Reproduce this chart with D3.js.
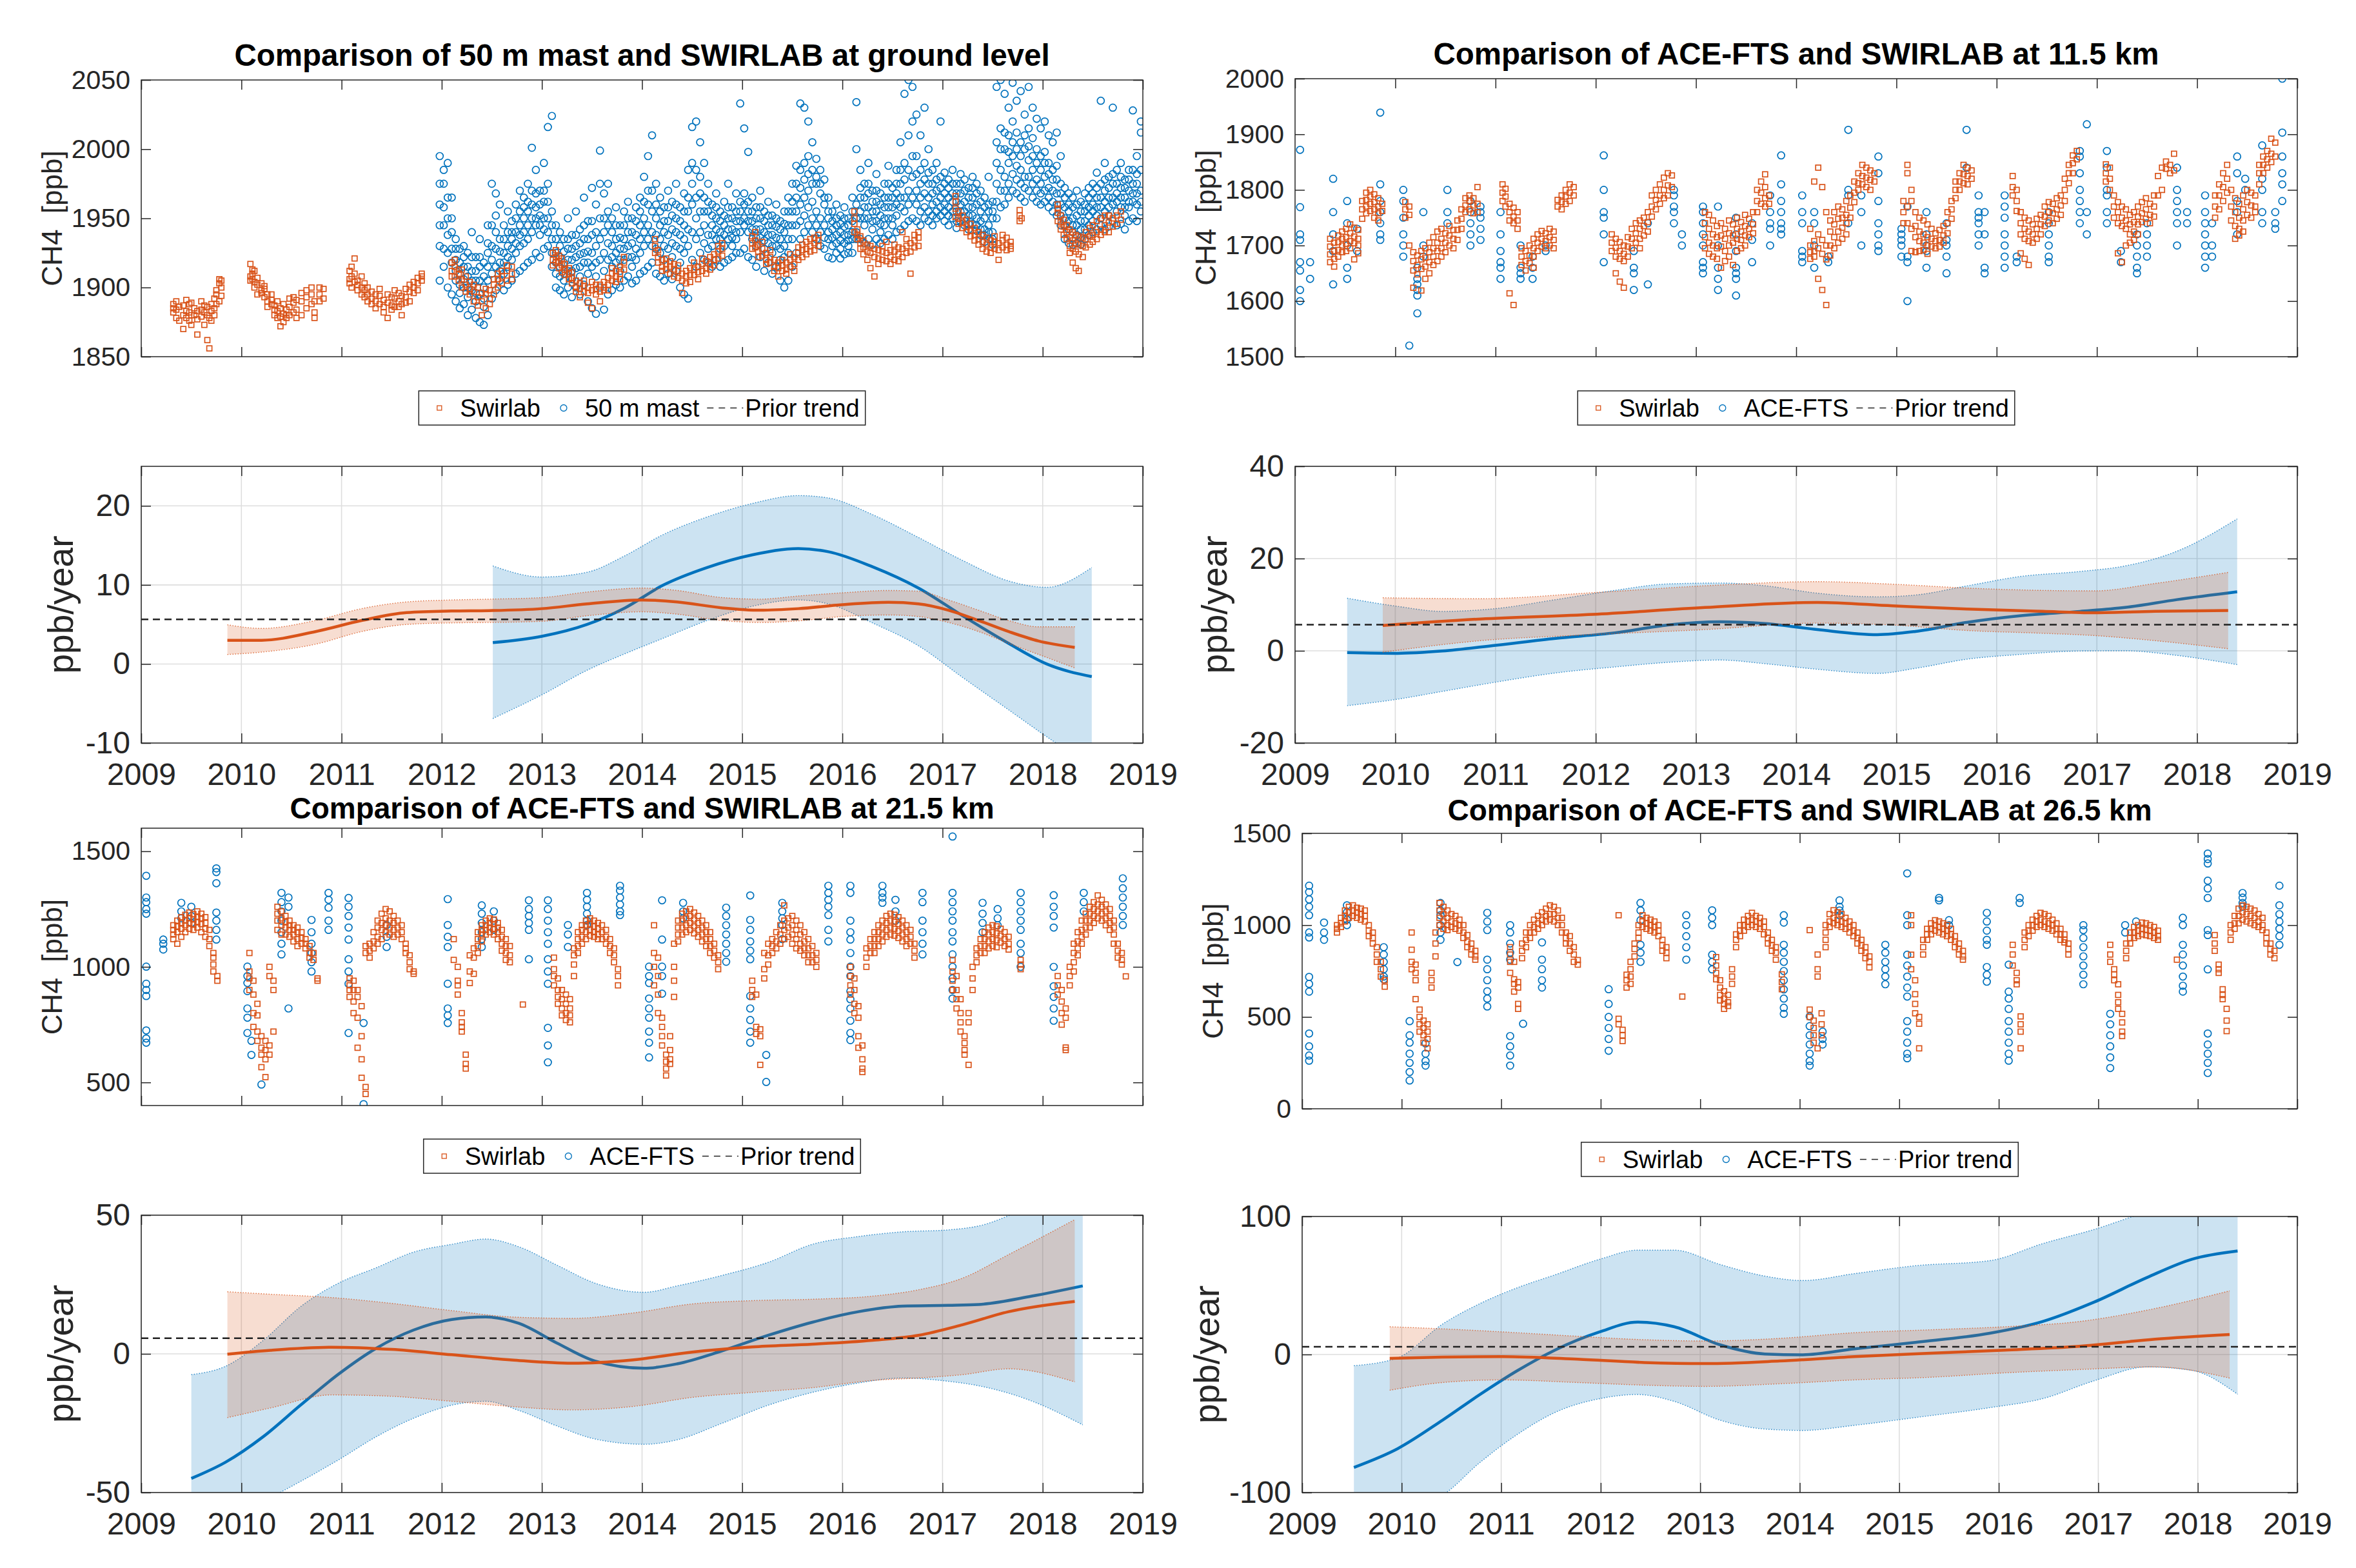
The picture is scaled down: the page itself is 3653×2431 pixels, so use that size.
<!DOCTYPE html>
<html>
<head>
<meta charset="utf-8">
<script src="https://cdn.jsdelivr.net/npm/d3@7"></script>
<style>
  body { margin: 0; background: #fff; }
</style>
</head>
<body>
<svg width="3653" height="2431"></svg>
<script>
// ---- scatter data: rows of [decimal year, value, value, ...] (ppb) ----
const swirlabGround = [
  [2009.32,1885,1882,1888],[2009.35,1878,1884,1890],[2009.38,1876,1886],[2009.42,1880,1870,1887],[2009.45,1883,1878,1891],
  [2009.48,1876,1882,1888],[2009.50,1873,1889,1880],[2009.53,1880,1885],[2009.56,1877,1866,1883],[2009.60,1879,1884,1890],
  [2009.63,1873,1882,1887],[2009.66,1886,1880,1862],[2009.68,1856,1878],[2009.70,1883,1876,1888],[2009.73,1892,1880,1885],
  [2009.75,1895,1898,1888],[2009.78,1903,1890,1906],[2009.80,1900,1894,1905],
  [2010.09,1917,1908,1905],[2010.11,1910,1906,1913],[2010.13,1912,1904,1900],[2010.16,1907,1902,1895],[2010.20,1903,1898,1896],
  [2010.23,1899,1893,1901],[2010.26,1895,1890,1886],[2010.30,1891,1888,1895],[2010.33,1887,1884,1880],[2010.36,1883,1890,1878],
  [2010.39,1879,1885,1872],[2010.42,1881,1875,1888],[2010.45,1884,1878,1880],[2010.48,1886,1892,1880],[2010.52,1882,1889,1893],
  [2010.55,1878,1884,1891],[2010.60,1890,1896,1880],[2010.65,1885,1893,1898],[2010.70,1888,1895,1900],[2010.73,1882,1878,1890],
  [2010.78,1900,1890,1895],[2010.82,1899,1892],
  [2011.08,1906,1912,1903],[2011.10,1908,1900,1915],[2011.13,1921,1910,1904],[2011.16,1905,1898,1902],[2011.20,1900,1895,1908],
  [2011.23,1898,1893,1903],[2011.26,1895,1890,1900],[2011.30,1892,1897,1888],[2011.34,1890,1885,1895],[2011.38,1894,1888,1899],
  [2011.42,1891,1886,1882],[2011.46,1889,1895,1878],[2011.50,1887,1893,1884],[2011.53,1892,1898,1886],[2011.57,1890,1886,1896],
  [2011.60,1880,1894,1888],[2011.64,1893,1899,1889],[2011.68,1897,1902,1890],[2011.72,1900,1896,1904],[2011.76,1903,1907,1898],
  [2011.80,1908,1905,1910],
  [2012.10,1912,1918,1908],[2012.13,1908,1915,1920],[2012.17,1910,1905,1913],[2012.20,1906,1913,1900],[2012.24,1902,1908,1897],
  [2012.28,1899,1904,1895],[2012.32,1897,1890,1902],[2012.36,1893,1900,1887],[2012.40,1890,1896,1880],[2012.44,1895,1885,1899],
  [2012.48,1898,1892,1888],[2012.52,1902,1895,1906],[2012.56,1906,1900,1910],[2012.60,1908,1903,1912],[2012.65,1912,1905,1916],
  [2012.70,1910,1915,1906],
  [2013.11,1925,1920,1916],[2013.14,1922,1918,1927],[2013.17,1919,1914,1923],[2013.20,1916,1911,1921],[2013.23,1913,1909,1917],
  [2013.27,1910,1906,1914],[2013.30,1907,1903,1911],[2013.34,1905,1900,1897],[2013.38,1903,1899,1893],[2013.42,1901,1897,1905],
  [2013.46,1900,1896,1889],[2013.50,1898,1904,1885],[2013.54,1899,1895,1902],[2013.58,1902,1897,1890],[2013.62,1904,1900,1898],
  [2013.66,1907,1902,1898],[2013.70,1910,1905,1914],[2013.74,1912,1908,1904],[2013.78,1915,1910,1906],[2013.82,1918,1913,1922],
  [2014.13,1930,1925,1935],[2014.16,1922,1918,1927],[2014.20,1920,1915,1912],[2014.24,1917,1913,1921],[2014.28,1915,1910,1919],
  [2014.32,1913,1908,1917],[2014.36,1912,1907,1916],[2014.40,1910,1905,1896],[2014.44,1912,1908,1903],[2014.48,1914,1909,1904],
  [2014.52,1913,1918,1909],[2014.56,1915,1911,1906],[2014.60,1917,1912,1921],[2014.64,1919,1914,1910],[2014.68,1922,1917,1913],
  [2014.72,1924,1920,1916],[2014.76,1926,1930,1921],[2014.80,1928,1932,1923],
  [2015.10,1937,1932,1928],[2015.13,1934,1929,1940],[2015.16,1931,1926,1922],[2015.20,1928,1923,1933],[2015.24,1925,1920,1917],
  [2015.28,1922,1918,1927],[2015.32,1920,1915,1912],[2015.36,1918,1914,1908],[2015.40,1916,1912,1920],[2015.44,1918,1913,1910],
  [2015.48,1920,1915,1924],[2015.52,1922,1917,1912],[2015.56,1925,1920,1929],[2015.60,1927,1922,1931],[2015.64,1928,1924,1933],
  [2015.68,1930,1926,1935],[2015.72,1932,1927,1936],[2015.76,1934,1930,1938],
  [2016.12,1955,1946,1940,1950],[2016.15,1942,1938,1935],[2016.18,1937,1932,1928],[2016.21,1934,1929,1924],[2016.25,1931,1926,1920],
  [2016.28,1930,1925,1914],[2016.32,1928,1922,1908],[2016.36,1927,1921,1917],[2016.40,1926,1920,1930],[2016.44,1925,1919,1933],
  [2016.48,1927,1922,1917],[2016.52,1926,1931,1920],[2016.56,1929,1924,1919],[2016.60,1928,1940,1922],[2016.64,1930,1935,1925],
  [2016.68,1932,1926,1910],[2016.72,1934,1938,1929],[2016.76,1936,1930,1940],
  [2017.13,1962,1957,1951,1966],[2017.16,1955,1950,1946],[2017.20,1952,1947,1943],[2017.24,1949,1944,1940],[2017.28,1946,1941,1937],
  [2017.32,1943,1938,1934],[2017.36,1940,1935,1931],[2017.40,1938,1933,1928],[2017.44,1936,1931,1926],[2017.48,1934,1929,1925],
  [2017.52,1933,1928,1937],[2017.56,1932,1927,1920],[2017.60,1934,1929,1938],[2017.64,1931,1936,1927],[2017.68,1933,1928,1930],
  [2017.77,1948,1952,1956],[2017.79,1950],
  [2018.15,1960,1954,1948,1957],[2018.18,1952,1947,1942],[2018.21,1949,1944,1938],[2018.24,1945,1940,1935],[2018.27,1942,1936,1930,1925],
  [2018.30,1940,1934,1928,1918],[2018.33,1938,1932,1926,1914],[2018.36,1937,1931,1924,1912],[2018.40,1936,1930,1922],[2018.43,1935,1929,1940],
  [2018.47,1937,1931,1943],[2018.50,1938,1933,1945],[2018.54,1940,1935,1948],[2018.58,1942,1950,1938],[2018.62,1945,1952,1940],
  [2018.66,1947,1940,1952],[2018.70,1950,1944],[2018.74,1952,1946],[2018.78,1955,1949]
];

const mast50m = [
  [2011.98,1995,1975,1960,1945,1930,1905],[2012.02,1985,1975,1958,1945,1928,1915],[2012.06,1990,1965,1950,1938,1925,1900],
  [2012.10,1965,1950,1940,1928,1918,1895],[2012.14,1935,1928,1920,1912,1905,1890],[2012.18,1928,1918,1910,1902,1896,1885],
  [2012.22,1930,1922,1915,1906,1900,1888],[2012.26,1925,1915,1908,1900,1893,1880],[2012.30,1940,1922,1912,1905,1898,1884],
  [2012.34,1922,1912,1905,1896,1890,1878],[2012.38,1935,1922,1915,1905,1895,1875],[2012.42,1918,1908,1900,1892,1886,1873],
  [2012.46,1945,1932,1925,1915,1905,1880],[2012.50,1975,1945,1930,1920,1910,1892],[2012.54,1968,1952,1940,1928,1915,1898],
  [2012.58,1935,1926,1918,1912,1905,1960],[2012.62,1945,1935,1925,1918,1910,1898],[2012.66,1955,1940,1930,1922,1915,1902],
  [2012.70,1948,1940,1935,1928,1920,1905],[2012.74,1960,1950,1940,1932,1925,1910],[2012.78,1970,1955,1945,1938,1930,1912],
  [2012.82,1965,1958,1950,1940,1932,1915],[2012.86,1975,1962,1955,1945,1935,1918],[2012.90,2001,1970,1960,1950,1940,1920],
  [2012.94,1985,1968,1958,1950,1945,1925],[2012.98,1970,1960,1952,1945,1938,1922],[2013.02,1990,1970,1962,1950,1942,1928],
  [2013.06,2016,1975,1962,1950,1940,1930],[2013.10,2024,1955,1945,1935,1925,1915],[2013.14,1945,1935,1925,1918,1910,1900],
  [2013.18,1940,1930,1922,1915,1908,1898],[2013.22,1935,1926,1918,1910,1905,1895],[2013.26,1950,1935,1928,1920,1912,1900],
  [2013.30,1938,1928,1920,1912,1906,1893],[2013.34,1955,1938,1930,1922,1914,1900],[2013.38,1942,1932,1924,1915,1908,1895],
  [2013.42,1965,1945,1935,1925,1918,1902],[2013.46,1948,1935,1926,1918,1910,1890],[2013.50,1972,1948,1938,1925,1915,1885],
  [2013.54,1960,1940,1930,1918,1908,1881],[2013.58,1999,1975,1950,1935,1920,1900],[2013.62,1968,1950,1940,1925,1912,1884],
  [2013.66,1975,1955,1945,1932,1920,1895],[2013.70,1950,1940,1930,1922,1915,1898],[2013.74,1958,1945,1935,1925,1918,1902],
  [2013.78,1945,1936,1928,1920,1912,1900],[2013.82,1955,1945,1935,1928,1920,1905],[2013.86,1962,1950,1940,1930,1922,1908],
  [2013.90,1950,1940,1932,1922,1915,1903],[2013.94,1958,1948,1938,1928,1920,1905],[2013.98,1965,1955,1945,1935,1925,1910],
  [2014.02,1980,1962,1950,1940,1930,1912],[2014.06,1995,1970,1960,1945,1935,1915],[2014.10,2010,1970,1955,1940,1930,1918],
  [2014.14,1975,1960,1950,1938,1928,1910],[2014.18,1965,1955,1945,1935,1925,1908],[2014.22,1958,1948,1940,1930,1920,1905],
  [2014.26,1970,1958,1948,1938,1928,1910],[2014.30,1962,1952,1942,1932,1922,1906],[2014.34,1975,1960,1950,1940,1930,1912],
  [2014.38,1958,1948,1938,1928,1918,1900],[2014.42,1968,1955,1945,1935,1925,1895],[2014.46,1985,1965,1955,1942,1930,1892],
  [2014.50,2016,1990,1975,1960,1940,1920],[2014.54,2020,1985,1965,1950,1935,1915],[2014.58,2005,1980,1968,1955,1940,1925],
  [2014.62,1990,1965,1955,1945,1932,1920],[2014.66,1975,1962,1955,1938,1928,1918],[2014.70,1960,1952,1945,1938,1930,1915],
  [2014.74,1968,1958,1950,1942,1935,1920],[2014.78,1955,1948,1940,1935,1928,1915],[2014.82,1962,1952,1945,1938,1930,1918],
  [2014.86,1975,1958,1950,1942,1935,1920],[2014.90,1958,1950,1942,1936,1930,1922],[2014.94,1968,1955,1948,1940,1935,1925],
  [2014.98,2033,1962,1955,1948,1940,1925],[2015.02,2015,1968,1960,1950,1945,1928],[2015.06,1998,1962,1955,1948,1940,1922],
  [2015.10,1965,1955,1948,1942,1935,1920],[2015.14,1958,1950,1942,1936,1930,1915],[2015.18,1970,1958,1950,1942,1936,1922],
  [2015.22,1955,1948,1940,1934,1928,1912],[2015.26,1962,1952,1945,1938,1932,1918],[2015.30,1952,1945,1938,1930,1925,1910],
  [2015.34,1960,1950,1944,1936,1930,1915],[2015.38,1948,1942,1935,1928,1920,1905],[2015.42,1955,1946,1940,1930,1922,1900],
  [2015.46,1965,1955,1945,1935,1925,1905],[2015.50,1975,1962,1955,1945,1935,1915],[2015.54,1988,1975,1965,1955,1945,1925],
  [2015.58,2033,1985,1972,1960,1948,1935],[2015.62,2030,1990,1978,1965,1952,1940],[2015.66,2020,1995,1982,1970,1958,1945],
  [2015.70,2005,1985,1975,1962,1950,1940],[2015.74,1993,1980,1975,1955,1945,1935],[2015.78,1985,1975,1968,1950,1940,1930],
  [2015.82,1978,1965,1960,1945,1936,1928],[2015.86,1965,1955,1950,1940,1935,1922],[2015.90,1955,1948,1942,1936,1930,1921],
  [2015.94,1960,1950,1945,1938,1932,1925],[2015.98,1952,1946,1940,1934,1928,1921],[2016.02,1958,1950,1944,1938,1932,1924],
  [2016.06,1950,1945,1938,1934,1930,1925],[2016.10,1965,1955,1948,1940,1935,1925],[2016.14,2034,2000,1960,1950,1940,1935],
  [2016.18,1985,1972,1965,1955,1950,1935],[2016.22,1975,1965,1958,1950,1945,1932],[2016.26,1990,1975,1968,1958,1950,1935],
  [2016.30,1970,1962,1955,1948,1942,1931],[2016.34,1982,1970,1962,1955,1948,1935],[2016.38,1968,1960,1952,1946,1940,1932],
  [2016.42,1975,1965,1958,1950,1945,1935],[2016.46,1988,1975,1965,1958,1950,1938],[2016.50,1972,1965,1958,1950,1945,1935],
  [2016.54,1985,1975,1968,1960,1952,1940],[2016.58,2005,1985,1975,1965,1958,1942],[2016.62,2040,1990,1978,1965,1955,1945],
  [2016.66,2050,2010,1985,1970,1960,1948],[2016.70,2045,2020,1995,1980,1965,1950],[2016.74,2025,1995,1982,1970,1960,1948],
  [2016.78,2010,1985,1975,1965,1955,1945],[2016.82,2030,1990,1978,1968,1958,1950],[2016.86,2000,1983,1975,1965,1955,1948],
  [2016.90,1985,1975,1968,1960,1952,1945],[2016.94,1990,1978,1970,1962,1955,1950],[2016.98,2020,1980,1972,1965,1958,1952],
  [2017.02,1983,1975,1968,1960,1955,1948],[2017.06,1978,1972,1965,1958,1952,1945],[2017.10,1985,1975,1968,1962,1955,1950],
  [2017.14,1975,1968,1962,1955,1948,1943],[2017.18,1982,1975,1968,1960,1955,1948],[2017.22,1978,1970,1962,1955,1950,1945],
  [2017.26,1972,1965,1958,1952,1946,1942],[2017.30,1980,1972,1965,1958,1952,1946],[2017.34,1975,1968,1960,1950,1945,1941],
  [2017.38,1970,1962,1955,1948,1942,1938],[2017.42,1965,1958,1950,1942,1938,1933],[2017.46,1980,1960,1955,1945,1940,1935],
  [2017.50,1962,1955,1950,1940,1935,1931],[2017.54,2045,2005,1990,1975,1962,1950],[2017.58,2050,2015,2000,1985,1970,1958],
  [2017.62,2040,2012,2000,1980,1970,1960],[2017.66,2030,2010,1998,1990,1975,1965],[2017.70,2048,2020,2005,1995,1982,1970],
  [2017.74,2035,2012,2000,1988,1978,1968],[2017.78,2042,2005,1995,1985,1975,1965],[2017.82,2025,2010,2000,1980,1972,1962],
  [2017.86,2045,2015,2002,1992,1980,1970],[2017.90,2030,2008,1995,1985,1975,1965],[2017.94,2022,2000,1990,1978,1970,1962],
  [2017.98,2015,1995,1985,1975,1968,1960],[2018.02,2020,1998,1990,1980,1970,1962],[2018.06,2010,1990,1982,1972,1965,1958],
  [2018.10,2005,1985,1978,1970,1962,1955],[2018.14,2012,1988,1978,1968,1960,1952],[2018.18,1995,1975,1968,1960,1952,1945],
  [2018.22,1972,1965,1958,1950,1945,1935],[2018.26,1968,1960,1955,1948,1942,1932],[2018.30,1965,1958,1950,1945,1940,1931],
  [2018.34,1970,1960,1952,1945,1938,1932],[2018.38,1962,1955,1948,1942,1936,1931],[2018.42,1968,1960,1955,1948,1942,1935],
  [2018.46,1972,1965,1958,1952,1945,1938],[2018.50,1975,1968,1960,1955,1948,1940],[2018.54,1983,1972,1965,1958,1952,1942],
  [2018.58,2035,1975,1965,1958,1950,1945],[2018.62,1990,1978,1970,1962,1955,1942],[2018.66,1980,1972,1965,1958,1952,1944],
  [2018.70,2030,1982,1975,1965,1960,1948],[2018.74,1985,1975,1968,1962,1955,1945],[2018.78,1990,1980,1972,1965,1958,1946],
  [2018.82,1978,1972,1965,1958,1952,1942],[2018.86,1985,1978,1970,1962,1958,1948],[2018.90,2028,1985,1975,1968,1962,1950],
  [2018.94,1995,1982,1975,1968,1960,1948],[2018.98,2020,2012,1985,1970,1962,1955]
];

const swirlab115 = [
  [2009.35,1712,1698,1684,1670],[2009.39,1705,1690,1676,1662],[2009.43,1718,1706,1692,1680],[2009.47,1725,1712,1700,1688],
  [2009.51,1730,1715,1703,1690],[2009.55,1738,1722,1708,1695],[2009.59,1732,1716,1704,1675],[2009.63,1728,1712,1700,1686],
  [2009.67,1780,1765,1748],[2009.71,1795,1782,1770,1758],[2009.75,1800,1788,1775,1762],[2009.79,1792,1778,1765,1750],
  [2009.83,1785,1770,1758,1745],[2009.87,1775,1762],
  [2010.10,1778,1765,1750],[2010.14,1770,1755,1700],[2010.18,1688,1672,1655,1624],[2010.22,1682,1665,1648],
  [2010.26,1690,1675,1658,1619],[2010.30,1695,1678,1662,1640],[2010.34,1705,1688,1670,1650],[2010.38,1715,1695,1680,1665],
  [2010.42,1725,1705,1690,1672],[2010.46,1730,1712,1695,1680],[2010.50,1722,1705,1688],[2010.54,1735,1718,1700],
  [2010.58,1728,1712,1695],[2010.62,1745,1728,1710],[2010.66,1765,1748,1730],[2010.70,1785,1772,1760],
  [2010.74,1790,1780,1765],[2010.78,1785,1772,1758],[2010.82,1805,1775,1760],
  [2011.07,1810,1795,1780],[2011.10,1802,1788,1770],[2011.14,1775,1760,1745,1614],[2011.18,1768,1752,1740,1593],
  [2011.22,1760,1745,1730],[2011.26,1695,1680,1665],[2011.30,1690,1672,1655],[2011.34,1700,1682,1668],
  [2011.38,1712,1695,1680,1660],[2011.42,1720,1705,1690],[2011.46,1726,1712,1698],[2011.50,1722,1708,1695],
  [2011.54,1730,1715,1700],[2011.58,1725,1710,1695],[2011.62,1782,1770],[2011.66,1790,1778,1765],
  [2011.70,1800,1788,1775],[2011.74,1810,1795,1780],[2011.78,1805,1790],
  [2012.16,1720,1705,1690],[2012.20,1712,1696,1680,1650],[2012.24,1706,1690,1676,1635],[2012.28,1700,1685,1672,1624],
  [2012.32,1715,1698,1680],[2012.36,1730,1712,1695],[2012.40,1740,1722,1705],[2012.44,1745,1730,1712,1695],
  [2012.48,1750,1735,1718],[2012.52,1760,1742,1725],[2012.56,1790,1770,1752],[2012.60,1800,1782,1765],
  [2012.64,1810,1790,1775],[2012.68,1822,1800,1785],[2012.72,1830,1808,1790],[2012.76,1826,1805],
  [2013.09,1760,1740,1715,1695],[2013.13,1755,1730,1705,1685],[2013.17,1745,1720,1700,1680],[2013.21,1735,1715,1695,1676],
  [2013.25,1740,1718,1698,1660],[2013.29,1730,1712,1690,1672],[2013.33,1745,1722,1700,1680],[2013.37,1738,1718,1705,1665],
  [2013.41,1750,1730,1712,1690],[2013.45,1742,1725,1710,1695],[2013.49,1755,1735,1718,1700],[2013.53,1748,1730,1715],
  [2013.57,1760,1738,1722],[2013.61,1800,1780,1760],[2013.65,1815,1795,1775],[2013.69,1828,1805,1785,1770],[2013.73,1790,1775],
  [2014.14,1730,1700,1688,1676],[2014.18,1815,1708,1690,1680],[2014.22,1840,1720,1695,1640],[2014.26,1805,1710,1685,1620],
  [2014.30,1760,1700,1675,1593],[2014.34,1745,1725,1700,1682],[2014.38,1760,1738,1715,1695],[2014.42,1770,1748,1725,1705],
  [2014.46,1765,1750,1732,1712],[2014.50,1780,1755,1740,1720],[2014.54,1790,1768,1750],[2014.58,1815,1795,1778],
  [2014.62,1830,1812,1800],[2014.66,1845,1825,1810],[2014.70,1840,1822,1805],[2014.74,1835,1818,1800],[2014.78,1830,1815],
  [2015.07,1780,1760,1740],[2015.11,1845,1830,1770,1740],[2015.15,1800,1780,1730,1690],[2015.19,1760,1735,1715,1688],
  [2015.23,1750,1725,1708,1690],[2015.27,1745,1720,1705,1692],[2015.31,1738,1715,1700,1685],[2015.35,1730,1712,1698],
  [2015.39,1722,1708,1695],[2015.43,1728,1710,1698],[2015.47,1735,1718,1705],[2015.51,1760,1740,1722],
  [2015.55,1780,1765,1748],[2015.59,1815,1800,1785],[2015.63,1830,1815,1800],[2015.67,1845,1828,1812],
  [2015.71,1840,1825,1810],[2015.75,1835,1820],
  [2016.16,1825,1805,1790],[2016.20,1800,1780,1762],[2016.24,1760,1740,1720,1686],[2016.28,1750,1730,1712,1676],
  [2016.32,1745,1725,1708,1665],[2016.36,1738,1720,1705],[2016.40,1748,1730,1712],[2016.44,1755,1738,1720],
  [2016.48,1770,1752,1735],[2016.52,1778,1760,1745],[2016.56,1775,1758,1740],[2016.60,1785,1765,1748],
  [2016.64,1790,1772,1755],[2016.68,1820,1800,1780],[2016.72,1845,1830,1812],[2016.76,1862,1848,1830],[2016.80,1870,1855],
  [2017.09,1846,1830,1815],[2017.13,1840,1820,1800],[2017.17,1790,1770,1750],[2017.21,1778,1760,1740,1686],
  [2017.25,1770,1750,1735,1670],[2017.29,1765,1745,1730,1700],[2017.33,1755,1738,1720,1705],[2017.37,1760,1742,1725,1710],
  [2017.41,1770,1752,1738,1720],[2017.45,1778,1758,1742],[2017.49,1785,1765,1748],[2017.53,1775,1755,1740],
  [2017.57,1790,1770,1752],[2017.61,1825,1790],[2017.65,1840,1800],[2017.69,1851,1838],[2017.73,1845,1830],[2017.77,1865,1835],
  [2018.18,1790,1770,1750],[2018.22,1810,1790,1765],[2018.26,1830,1805,1780],[2018.30,1845,1820,1795],
  [2018.34,1800,1770,1745],[2018.38,1785,1760,1735,1712],[2018.42,1775,1750,1730,1718],[2018.46,1790,1765,1745,1725],
  [2018.50,1800,1778,1755],[2018.54,1795,1772,1750],[2018.58,1790,1770,1760],[2018.62,1845,1830,1810],
  [2018.66,1860,1845,1830],[2018.70,1870,1855,1840],[2018.74,1892,1865,1850],[2018.78,1885,1860]
];

const ace115 = [
  [2009.05,1872,1769,1720,1710,1670,1655,1620,1600],[2009.15,1640,1670],[2009.38,1820,1760,1720,1690,1630],
  [2009.52,1780,1740,1700,1660,1640],[2009.62,1730,1690],[2009.85,1939,1810,1780,1760,1740,1720,1710],
  [2010.08,1800,1780,1750,1720,1700,1680],[2010.14,1520],[2010.22,1660,1640,1630,1620,1610,1578],[2010.28,1760,1700,1680],
  [2010.52,1800,1760,1740],[2010.75,1780,1760,1740,1720,1700],[2010.85,1770,1760,1750,1730,1710],
  [2011.05,1760,1720,1690,1670,1660,1640],[2011.25,1700,1660,1650,1640],[2011.37,1680,1660,1640],[2011.50,1700,1690],
  [2012.08,1862,1800,1760,1750,1720,1670],[2012.38,1690,1660,1650,1620],[2012.52,1740,1630],
  [2012.78,1800,1790,1770,1760,1740],[2012.86,1720,1700],[2013.07,1770,1760,1740,1720,1700,1670,1660,1650],
  [2013.22,1770,1700,1660,1640,1620],[2013.40,1750,1720,1690,1660,1650,1640,1610],[2013.56,1740,1710,1670],
  [2013.74,1790,1760,1740,1730,1700],[2013.85,1862,1810,1780,1760,1740,1730,1720],[2014.06,1790,1760,1740,1690,1680,1670],
  [2014.18,1760,1740,1700,1660],[2014.32,1680,1670],[2014.52,1908,1800,1790,1740],[2014.65,1790,1760,1700],
  [2014.82,1860,1830,1780,1740,1720,1700,1690],[2015.05,1730,1720,1710,1700,1680],[2015.11,1770,1680,1670,1600],
  [2015.30,1760,1720,1700,1690,1660],[2015.50,1740,1710,1700,1680,1650],[2015.70,1908,1840],
  [2015.82,1790,1760,1750,1740,1720,1700],[2015.88,1760,1720,1660,1650],[2016.08,1790,1770,1750,1720,1700,1680,1660],
  [2016.20,1680,1670],[2016.52,1760,1740,1720,1700,1680,1670],[2016.83,1870,1860,1830,1800,1780,1760,1740],
  [2016.90,1918,1760,1720],[2017.10,1870,1840,1800,1790,1760,1740],[2017.24,1690,1670],
  [2017.40,1720,1700,1680,1660,1650],[2017.50,1740,1720,1700,1680],[2017.80,1840,1800,1780,1760,1740,1700],
  [2017.90,1760,1740],[2018.08,1790,1760,1740,1720,1700,1680,1660],[2018.15,1740,1700,1680],
  [2018.40,1860,1830,1780,1760,1720],[2018.48,1820,1800],[2018.65,1880,1820,1800,1760,1740],
  [2018.78,1760,1740,1730],[2018.85,2000,1903,1860,1830,1810,1780]
];

const swirlab215 = [
  [2009.32,1180,1160,1140,1120],[2009.36,1200,1175,1150,1100],[2009.40,1215,1190,1165,1130],[2009.44,1225,1200,1180,1150],
  [2009.48,1235,1210,1190,1165],[2009.52,1228,1205,1185,1160],[2009.56,1240,1215,1195,1170],[2009.60,1230,1210,1185,1150],
  [2009.64,1215,1190,1165,1130],[2009.68,1160,1120,1090],[2009.72,1060,1040,1010,980],[2009.76,960,940],
  [2010.08,1060,980,950,900],[2010.12,940,880,800,740],[2010.16,840,790,720,680],[2010.20,700,650,620,566],
  [2010.24,680,640,600,523],[2010.28,1000,960,660,620],[2010.32,940,900,720],
  [2010.36,1260,1230,1200,1160],[2010.40,1240,1210,1180,1140],[2010.44,1220,1195,1170,1140],[2010.48,1200,1180,1160,1130],
  [2010.52,1180,1160,1140,1110],[2010.56,1170,1150,1120,1090],[2010.60,1150,1125,1100],[2010.64,1120,1100,1080],
  [2010.68,1090,1060,1040],[2010.72,1060,1030],[2010.76,950,940],
  [2011.08,950,920,900,870],[2011.12,940,900,850,800],[2011.16,900,870,780,650],[2011.20,830,700,600,520],
  [2011.24,1090,1060,480,450],[2011.28,1100,1070,1040],[2011.32,1150,1110,1080],[2011.36,1200,1170,1130,1100],
  [2011.40,1230,1190,1160,1120],[2011.44,1250,1210,1180,1150],[2011.48,1240,1200,1170,1140],[2011.52,1220,1190,1160,1130],
  [2011.56,1200,1170,1140],[2011.60,1180,1150,1120],[2011.64,1100,1080,1060],[2011.68,1050,1020,990],[2011.72,980,970],
  [2012.12,1120,1030],[2012.16,1000,940,920,880],[2012.20,800,760,740,720],[2012.24,580,560,620],[2012.28,1050,980,930],
  [2012.32,1080,1040,970],[2012.36,1150,1120,1090,1060],[2012.40,1180,1160,1140,1110],[2012.44,1200,1180,1160,1140],
  [2012.48,1210,1190,1170,1150],[2012.52,1205,1185,1165,1140],[2012.56,1190,1170,1150,1120],[2012.60,1160,1130,1100,1070],
  [2012.64,1120,1090,1060,1030],[2012.68,1090,1050,1020],[2012.81,837],
  [2013.12,1040,990,960,920],[2013.16,950,900,870,840],[2013.20,900,860,820,790],[2013.24,880,840,800,770],
  [2013.28,860,820,790,760],[2013.32,1080,1050,1010,960],[2013.36,1150,1120,1090,1060],[2013.40,1180,1160,1130,1100],
  [2013.44,1200,1180,1150,1120],[2013.48,1210,1185,1160,1135],[2013.52,1200,1175,1150,1130],[2013.56,1190,1165,1140,1120],
  [2013.60,1180,1150,1120],[2013.64,1160,1130,1100],[2013.68,1120,1090,1060],[2013.72,1080,1050,1020],[2013.76,990,960,920],
  [2014.12,1180,1060,1000,920],[2014.16,1040,960,880,800],[2014.20,780,740,700,660],[2014.24,620,590,560,530],
  [2014.28,700,640,600,580],[2014.32,1100,1000,940,870],[2014.36,1200,1170,1140,1110],[2014.40,1230,1200,1170,1140],
  [2014.44,1240,1210,1180,1150],[2014.48,1250,1220,1190,1160],[2014.52,1235,1205,1175,1145],[2014.56,1220,1190,1160,1130],
  [2014.60,1200,1170,1140,1110],[2014.64,1180,1150,1120,1090],[2014.68,1150,1120,1090,1060],[2014.72,1100,1070,1040],
  [2014.76,1050,1020,990],
  [2015.10,940,900,870],[2015.14,880,740,710],[2015.18,730,700,576],[2015.22,1060,990,950],[2015.26,1100,1050,1010],
  [2015.30,1120,1090,1060],[2015.34,1150,1110,1080],[2015.38,1180,1140,1100],[2015.42,1266,1200,1160,1120],
  [2015.46,1210,1170,1130],[2015.50,1220,1180,1140,1100],[2015.54,1200,1160,1120,1080],[2015.58,1180,1140,1100,1070],
  [2015.62,1150,1110,1080,1050],[2015.66,1120,1080,1050,1020],[2015.70,1090,1050,1020],[2015.74,1060,1030,1000],
  [2016.08,1000,960,920,880],[2016.12,950,900,840,800],[2016.16,830,780,700,650],[2016.20,660,600,560,545],
  [2016.24,1080,1040,1000],[2016.28,1120,1090,1060],[2016.32,1150,1120,1090,1060],[2016.36,1180,1150,1120,1090],
  [2016.40,1200,1170,1140,1110],[2016.44,1220,1190,1160,1130],[2016.48,1230,1200,1170,1140],[2016.52,1225,1195,1165,1135],
  [2016.56,1215,1185,1155,1125],[2016.60,1200,1170,1140,1110],[2016.64,1180,1150,1120,1090],[2016.68,1160,1130,1100],
  [2016.72,1100,1070,1040],
  [2017.10,1030,980,940,900],[2017.14,960,900,860,820],[2017.18,860,800,760,720],[2017.22,700,670,640,620],
  [2017.26,800,760,576],[2017.30,1000,950,900],[2017.34,1080,1050,1020],[2017.38,1120,1090,1060],
  [2017.42,1150,1120,1090,1060],[2017.46,1170,1140,1110,1080],[2017.50,1180,1150,1120,1090],[2017.54,1175,1145,1115,1085],
  [2017.58,1165,1135,1105],[2017.62,1150,1120,1090],[2017.66,1130,1100,1075],[2017.78,1030,1010,990],
  [2018.15,960,920,880],[2018.19,900,850,800,750],[2018.23,820,780,651,640],[2018.27,1000,960,920],
  [2018.31,1100,1060,1020,980],[2018.35,1150,1110,1080,1050],[2018.39,1200,1160,1130,1100],[2018.43,1230,1200,1170,1140],
  [2018.47,1260,1230,1200,1170],[2018.51,1280,1250,1220,1190],[2018.55,1309,1270,1240,1210],[2018.59,1290,1260,1230,1200],
  [2018.63,1270,1240,1210,1180],[2018.67,1250,1220,1190,1160],[2018.71,1200,1170,1140,1100],[2018.75,1100,1070,1040],
  [2018.79,1060,1030,1010],[2018.83,959]
];

const ace215 = [
  [2009.05,1394,1300,1280,1250,1230,1001,927,900,874,725,690,672],[2009.22,1118,1100,1075],[2009.40,1277,1240,1210],
  [2009.50,1260,1220,1190],[2009.75,1426,1410,1362,1235,1200,1160,1118],[2010.06,1001,960,930,895,820,780,714],
  [2010.10,619,680],[2010.20,491],[2010.40,1320,1280,1240,1200,1150,1100,1054],[2010.47,1300,1260,820],
  [2010.70,1203,1150,1100,1060,1020,980],[2010.87,1320,1290,1256,1200,1160],
  [2011.07,1298,1260,1220,1170,1118,1033,980,927,714],[2011.22,757,406],[2011.45,1181,1130,1086],
  [2012.06,1293,1181,1130,1086,927,820,790,757],[2012.40,1266,1230,1190,1150,1120,1086],[2012.52,1240,1200,1160],
  [2012.87,1288,1250,1220,1190,1160,1033],[2013.06,1288,1250,1200,1150,1100,1033,980,927,736,660,587],
  [2013.26,1181,1140,1086],[2013.45,1320,1290,1260,1230,1200,1181],[2013.78,1351,1330,1300,1270,1240,1224],
  [2014.07,1001,960,930,863,820,780,720,672,608],[2014.20,1288,1118,1001,960,884],[2014.41,1277,1240,1210],
  [2014.84,1256,1220,1180,1140,1100,1060,1022],[2015.08,1309,1203,1160,1110,1070,1033,874,820,770,720,672],
  [2015.24,619,502],[2015.40,1277,1240,1210,1181,1120],[2015.86,1351,1320,1290,1260,1224,1160,1110],
  [2016.08,1351,1320,1200,1150,1118,1060,1001,960,895,860,820,767,714,683],[2016.40,1351,1320,1300,1277],
  [2016.53,1290,1240,1200],[2016.80,1320,1280,1200,1150,1100,1054],
  [2017.10,1564,1320,1280,1240,1200,1150,1110,1054,1000,950,900,863],[2017.40,1277,1230,1190,1150],
  [2017.55,1250,1210,1180],[2017.78,1320,1280,1240,1200,1160,1100,1060,1000],
  [2018.11,1310,1260,1220,1170,1000,916,870,820,767],[2018.41,1320,1280,1240],[2018.80,1383,1340,1300,1260,1220,1181]
];

const swirlab265 = [
  [2009.35,1000,980,960],[2009.39,1040,1010,990],[2009.43,1080,1050,1020],[2009.47,1100,1070,1040],[2009.51,1108,1080,1050],
  [2009.55,1095,1070,1040],[2009.59,1090,1060,1030],[2009.63,1080,1050,1020],[2009.67,1000,970,940],[2009.71,960,930,900],
  [2009.75,880,840,800],[2009.79,800,760,720],[2009.83,700,665],
  [2010.10,960,866,800,760],[2010.14,785,740,700,597],[2010.18,540,500,460,420],[2010.22,480,440,400,360],
  [2010.26,460,420,380,329],[2010.30,740,700,660],[2010.34,960,900,830],
  [2010.38,1121,1080,1040,1000],[2010.42,1100,1060,1020,980],[2010.46,1080,1040,1000,973],[2010.50,1060,1020,990],
  [2010.54,1050,1010,980],[2010.58,1030,1000,970],[2010.62,1000,960,930],[2010.66,946,910,880],[2010.70,900,870,840],
  [2010.74,860,830,812],
  [2011.09,880,840,800,740],[2011.13,800,705,680,638],[2011.17,690,660,571,544],[2011.21,900,860,820],[2011.25,960,920,880],
  [2011.29,1000,960,930],[2011.33,1030,990,960],[2011.37,1050,1010,980],[2011.41,1070,1030,1000],[2011.45,1090,1050,1020],
  [2011.49,1108,1060,1030],[2011.53,1100,1060,1020],[2011.57,1080,1040,1000],[2011.61,1040,1000,960],[2011.65,960,930,900],
  [2011.69,940,900,860],[2011.73,880,840,800],[2011.77,810,785],
  [2012.18,1054,490,460],[2012.22,430,400,369],[2012.26,730,700,660],[2012.30,800,760,720,680],[2012.34,900,870,830],
  [2012.38,1000,960,930],[2012.42,1054,1020,990],[2012.46,1040,1010,980],[2012.50,1030,1000,970],[2012.54,1020,990,960],
  [2012.58,1000,970,940],[2012.62,920,890,860],[2012.66,880,850,820],[2012.82,611],
  [2013.16,826,780,740,705],[2013.20,700,660,620,590],[2013.24,640,600,570,544],[2013.28,620,580,560],[2013.32,760,720,680],
  [2013.36,950,920,880],[2013.40,1000,970,940],[2013.44,1030,1000,970],[2013.48,1050,1020,990],[2013.52,1067,1030,1000],
  [2013.56,1050,1020,990],[2013.60,1040,1010,980],[2013.64,1020,990,950],[2013.68,960,930,900],[2013.72,920,890,860],
  [2013.76,880,850,812],[2013.82,732,690,651],
  [2014.10,973,540,500],[2014.14,480,440,400,360],[2014.18,840,760,720,329],[2014.22,520,460,400],[2014.26,1000,960,920,880],
  [2014.30,1060,1020,990],[2014.34,1081,1040,1010],[2014.38,1070,1030,1000],[2014.42,1060,1020,990],[2014.46,1040,1010,980],
  [2014.50,1020,990,960],[2014.54,1000,970,940],[2014.58,960,930,900],[2014.62,920,890,860],[2014.66,880,850,820],
  [2014.70,830,800,770],
  [2015.12,1054,1000,839,760],[2015.16,700,624,571,520],[2015.20,500,463,329],[2015.24,920,880,840],[2015.28,980,950,920],
  [2015.32,1010,980,950],[2015.36,1027,1000,970],[2015.40,1020,990,960],[2015.44,1010,980,950],[2015.48,1000,970,940],
  [2015.52,980,950,920],[2015.56,940,910,880],[2015.60,900,870,840],[2015.64,860,830,812],
  [2016.14,893,840,780],[2016.18,740,700,678],[2016.22,503,460,420,329],[2016.26,960,920,880],[2016.30,1000,970,940],
  [2016.34,1030,1000,970],[2016.38,1050,1020,990],[2016.42,1067,1030,1000],[2016.46,1060,1020,990],[2016.50,1050,1010,980],
  [2016.54,1030,1000,970],[2016.58,1010,980,950],[2016.62,980,950,920],[2016.66,950,920,906],[2016.70,900,870,840],
  [2017.12,893,840,800],[2017.16,760,732,700],[2017.20,678,620,580,544],[2017.24,517,470,420,396],[2017.28,900,860,820],
  [2017.32,960,930,900],[2017.36,990,960,930],[2017.40,1000,970,940],[2017.44,1014,980,950],[2017.48,1010,975,945],
  [2017.52,1000,970,940],[2017.56,990,960,930],[2017.60,970,940,920],[2017.79,812],
  [2018.17,946,900,860],[2018.21,785,760,740],[2018.25,651,620,597],[2018.29,544,480,423],[2018.33,1000,960,920],
  [2018.37,1050,1010,980],[2018.41,1090,1050,1010],[2018.45,1108,1070,1030],[2018.49,1100,1060,1020],[2018.53,1090,1050,1010],
  [2018.57,1080,1040,1000],[2018.61,1060,1020,990],[2018.65,1040,1000,973],[2018.69,960,930,900],[2018.73,900,870,840],
  [2018.77,860,820]
];

const ace265 = [
  [2009.07,1215,1180,1140,1100,1054,960,933,718,680,638,410,340,290,262],[2009.22,1014,960,920],[2009.45,1108,1070,1030,1000],
  [2009.82,880,840,800,760,720,705],[2010.08,477,400,360,300,250,200,154],[2010.24,356,300,260,235],
  [2010.39,1121,1080,1054,1000,960,920],[2010.56,799],[2010.86,1067,1020,973,812,760,700,640,600,557],
  [2011.09,1000,960,900,850,812,396,340,290,235],[2011.22,463],[2011.41,906,812,760,700,660],
  [2012.08,651,571,500,440,380,316],[2012.40,1121,1080,1027,893,850,800],[2012.86,1054,1000,940,880,812],
  [2013.12,1081,1040,1000,839,800,759],[2013.84,1054,1014,893,850,800,750,700,650,600,550,517],
  [2014.10,503,450,400,350,300,260,235],[2014.23,420,380,350],[2014.40,1135,1100,1080,1054],
  [2014.86,893,850,800,760,720,678],[2015.08,1282,1054,1000,839,780,720,660,611,477,420,360,300,275],
  [2015.40,1148,1135],[2015.50,1027,1000],[2015.88,1067,1020,970,920,893,772,730,692],
  [2016.10,785,638,600,544,477,420,360,300,262],[2016.21,1148,1121],[2016.85,1000,973,930,880,830,780,730,678],
  [2017.12,517,460,400,340,280,222],[2017.27,1000,960],[2017.38,1020],[2017.85,1040,1000,893,840,780,720,670,638],
  [2018.10,1390,1360,1336,1242,1200,1148,973,946,759,410,350,300,250,195],[2018.45,1175,1150,1121,1100],
  [2018.82,1215,1108,1060,1020,980,940,893]
];

// ---- growth-rate data: [decimal year, estimate, lower, upper] (ppb/year) ----
const groundSwirlTrend = [
  [2009.86,3.0,1.2,4.96],[2010.2,3.0,1.5,4.5],[2010.74,4.1,2.5,5.5],[2011.2,5.5,4.1,7.0],[2011.65,6.5,5.0,7.85],
  [2012.1,6.7,5.2,8.1],[2012.47,6.75,5.25,8.2],[2013.0,7.0,5.4,8.4],[2013.45,7.6,6.1,9.1],[2014.0,8.1,6.6,9.6],
  [2014.35,7.85,6.3,9.3],[2014.8,7.1,5.5,8.4],[2015.18,6.8,5.25,8.2],[2015.56,7.0,5.45,8.6],[2016.0,7.5,6.0,9.0],
  [2016.46,7.8,6.2,9.3],[2016.76,7.6,6.0,9.2],[2017.06,6.8,5.25,8.1],[2017.36,5.5,4.1,6.8],[2017.66,4.1,2.6,5.5],
  [2017.96,2.9,1.2,4.7],[2018.32,2.1,-0.5,4.7]
];
const groundMastTrend = [
  [2012.51,2.7,-6.9,12.4],[2013.0,3.5,-3.9,11.0],[2013.45,5.0,-0.8,11.6],[2013.83,7.1,1.3,13.7],[2014.2,9.9,3.2,16.3],
  [2014.65,12.2,5.5,18.6],[2015.1,13.8,7.3,20.3],[2015.56,14.6,8.1,21.3],[2015.86,14.2,7.6,21.0],[2016.3,12.3,5.2,18.9],
  [2016.76,9.6,2.3,16.0],[2017.2,6.1,-1.7,13.1],[2017.66,2.6,-5.8,10.5],[2018.04,0.0,-9.2,9.7],[2018.49,-1.6,-13,12.2]
];
const km115SwirlTrend = [
  [2009.875,5.5,-0.3,11.5],[2010.85,6.9,2.2,11.3],[2011.97,7.9,3.5,12.6],[2013.09,9.4,4.6,14.1],[2014.21,10.5,6.0,15.0],
  [2014.96,9.75,5.6,14.45],[2015.71,9.05,4.4,13.6],[2016.46,8.55,3.8,13.1],[2016.98,8.25,3.3,13.0],[2017.58,8.55,2.2,14.6],
  [2018.31,8.75,0.45,17.0]
];
const km115AceTrend = [
  [2009.52,-0.4,-11.9,11.4],[2010.02,-0.55,-10.5,9.65],[2010.47,-0.05,-8.8,8.55],[2011.0,1.2,-6.8,9.15],[2011.6,2.7,-4.8,11.1],
  [2012.19,3.9,-3.5,13.1],[2012.72,5.6,-2.5,14.5],[2013.24,6.3,-2.0,14.7],[2013.69,5.9,-2.8,14.1],[2014.21,4.6,-4.0,12.5],
  [2014.81,3.5,-4.9,11.7],[2015.19,4.2,-3.8,12.1],[2015.71,6.2,-1.8,14.1],[2016.23,7.6,-0.8,16.1],[2016.83,8.55,-0.05,17.2],
  [2017.28,9.4,0,18.4],[2017.8,11.1,-1.0,21.6],[2018.4,12.8,-3.0,28.6]
];
const km215SwirlTrend = [
  [2009.86,-0.1,-23,22.4],[2010.29,1.3,-19.5,21.5],[2010.9,2.4,-14.8,20.3],[2011.5,1.6,-15.3,18.2],[2012.1,-0.3,-17.1,15.6],
  [2012.7,-2.2,-19,13.3],[2013.3,-3.4,-20.2,12.8],[2013.9,-2.2,-19,14.7],[2014.5,0.65,-15.7,18.0],[2015.1,2.5,-13.9,19.2],
  [2015.7,3.5,-12.2,19.7],[2016.3,4.9,-9.6,20.8],[2016.76,6.7,-8.7,23.1],[2017.2,10.5,-7.5,27.3],[2017.66,15.2,-5.4,35.8],
  [2018.32,18.9,-10.1,48.4]
];
const km215AceTrend = [
  [2009.5,-44.9,-62,-7.5],[2009.84,-39.1,-59,-4.5],[2010.22,-29.8,-53,4.9],[2010.59,-18.5,-46,17.0],[2010.97,-7.3,-38.2,25.5],
  [2011.35,2.1,-29.8,31.1],[2011.72,8.6,-23.2,36.7],[2012.1,12.4,-18.5,39.5],[2012.44,13.3,-17.1,41.4],[2012.77,11.0,-20.4,38.6],
  [2013.15,3.9,-26,32.0],[2013.53,-2.6,-30.7,25.5],[2014.02,-5.2,-32.6,22.2],[2014.35,-3.6,-31,24.5],[2014.8,1.1,-25,28.3],
  [2015.26,6.7,-18.5,33.0],[2015.7,11.4,-13.9,39.5],[2016.16,15.2,-10.5,42.3],[2016.6,17.2,-8.7,44.0],[2017.06,17.5,-9.9,44.7],
  [2017.36,17.8,-11.5,46.1],[2017.89,20.8,-17,52.7],[2018.4,24.5,-25.6,55.4]
];
const km265SwirlTrend = [
  [2009.88,-2.8,-25.9,20.1],[2010.41,-1.9,-20.3,18.6],[2011.01,-1.5,-18.4,16.4],[2011.77,-3.4,-20.3,13.2],[2012.44,-5.8,-22.2,10.7],
  [2013.05,-6.6,-23.1,9.8],[2013.8,-4.7,-21.2,11.7],[2014.55,-1.5,-18.4,15.8],[2015.31,0.9,-16.5,17.9],[2016.06,3.2,-13.3,20.1],
  [2016.81,6.0,-10.9,23.9],[2017.57,11.1,-9.0,33.3],[2018.32,14.5,-17.1,46.1]
];
const km265AceTrend = [
  [2009.52,-81.8,-120,-8.1],[2009.96,-68.2,-113,-2.4],[2010.41,-47.6,-102,22.0],[2010.79,-28.8,-78,37.0],[2011.16,-11.8,-58,48.3],
  [2011.54,3.2,-42,57.7],[2011.99,16.4,-32,69.0],[2012.37,23.5,-29,75.6],[2012.74,20.1,-34,75.6],[2013.2,7.0,-47.6,65.2],
  [2013.65,0.4,-54,56.8],[2014.03,-0.2,-55,53.6],[2014.55,4.1,-51.3,58.6],[2015.16,8.8,-45.7,64.3],[2015.91,15.4,-38.5,68.0],
  [2016.44,23.9,-32,80.3],[2016.96,38.0,-19,90.6],[2017.49,55.8,-9,102.8],[2017.94,69.0,-11.5,108],[2018.4,75.0,-28.8,112]
];
const priorTrend = 5.65;

const yearTicks = [2009, 2010, 2011, 2012, 2013, 2014, 2015, 2016, 2017, 2018, 2019];

// ---- drawing ----
const svg = d3.select("svg");
const FONT = '"Liberation Sans", Arial, Helvetica, sans-serif';
const BLUE = "#0072BD", ORANGE = "#D95319", AX = "#262626";
svg.append("rect").attr("width", 3653).attr("height", 2431).attr("fill", "#fff");

const points = (rows) => rows.flatMap(([t, ...vs]) => vs.map((v) => [t, v]));

let clipCount = 0;
const makeAxes = (box, yDomain, yTicks, fontSize, growth) => {
  const x = d3.scaleLinear().domain([2009, 2019]).range([box.x0, box.x1]);
  const y = d3.scaleLinear().domain(yDomain).range([box.y1, box.y0]);
  const id = "clip" + clipCount++;
  svg.append("clipPath").attr("id", id).append("rect")
    .attr("x", box.x0).attr("y", box.y0)
    .attr("width", box.x1 - box.x0).attr("height", box.y1 - box.y0);

  if (growth) {
    const grid = svg.append("g").attr("stroke", "#dedede").attr("stroke-width", 1.6);
    grid.selectAll(".gx").data(yearTicks).join("line")
      .attr("x1", (d) => x(d)).attr("x2", (d) => x(d)).attr("y1", box.y0).attr("y2", box.y1);
    grid.selectAll(".gy").data(yTicks).join("line")
      .attr("y1", (d) => y(d)).attr("y2", (d) => y(d)).attr("x1", box.x0).attr("x2", box.x1);
  }

  const plot = svg.append("g").attr("clip-path", `url(#${id})`);
  const ax = svg.append("g").style("color", AX);

  const style = (sel) => {
    sel.attr("font-size", fontSize).attr("font-family", FONT);
    sel.select(".domain").remove();
    sel.selectAll("line").attr("stroke-width", 1.5);
  };
  const label = (d) => String(d);
  ax.append("g").attr("transform", `translate(0,${box.y1})`)
    .call(d3.axisBottom(x).tickValues(yearTicks).tickSize(-15).tickSizeOuter(0)
      .tickPadding(31).tickFormat(growth ? label : () => ""))
    .call(style);
  ax.append("g").attr("transform", `translate(0,${box.y0})`)
    .call(d3.axisTop(x).tickValues(yearTicks).tickSize(-15).tickSizeOuter(0).tickFormat(() => ""))
    .call(style);
  ax.append("g").attr("transform", `translate(${box.x0},0)`)
    .call(d3.axisLeft(y).tickValues(yTicks).tickSize(-15).tickSizeOuter(0).tickPadding(17).tickFormat(label))
    .call(style);
  ax.append("g").attr("transform", `translate(${box.x1},0)`)
    .call(d3.axisRight(y).tickValues(yTicks).tickSize(-15).tickSizeOuter(0).tickFormat(() => ""))
    .call(style);
  ax.append("rect")
    .attr("x", box.x0).attr("y", box.y0)
    .attr("width", box.x1 - box.x0).attr("height", box.y1 - box.y0)
    .attr("fill", "none").attr("stroke", AX).attr("stroke-width", 1.5);

  return { x, y, plot };
};

const yLabel = (text, xPos, box, size) => {
  svg.append("text")
    .attr("transform", `translate(${xPos},${(box.y0 + box.y1) / 2}) rotate(-90)`)
    .attr("text-anchor", "middle")
    .attr("font-family", FONT).attr("font-size", size).attr("fill", AX)
    .style("white-space", "pre")
    .text(text);
};

const legend = (cx, top, otherName) => {
  const g = svg.append("g").attr("font-family", FONT).attr("font-size", 38);
  const frame = g.append("rect");
  const mid = top + 26.5;
  const base = mid + 13.5;
  let cur = 32;
  g.append("rect").attr("x", cur - 3.5).attr("y", mid - 3.5).attr("width", 7).attr("height", 7)
    .attr("fill", "none").attr("stroke", ORANGE).attr("stroke-width", 1.3);
  cur += 32;
  const t1 = g.append("text").attr("x", cur).attr("y", base).text("Swirlab");
  cur += t1.node().getComputedTextLength() + 36;
  g.append("circle").attr("cx", cur).attr("cy", mid).attr("r", 5)
    .attr("fill", "none").attr("stroke", BLUE).attr("stroke-width", 1.3);
  cur += 33;
  const t2 = g.append("text").attr("x", cur).attr("y", base).text(otherName);
  cur += t2.node().getComputedTextLength() + 12;
  g.append("line").attr("x1", cur).attr("x2", cur + 56).attr("y1", mid).attr("y2", mid)
    .attr("stroke", AX).attr("stroke-width", 1.5).attr("stroke-dasharray", "10,8");
  cur += 59;
  const t3 = g.append("text").attr("x", cur).attr("y", base).text("Prior trend");
  cur += t3.node().getComputedTextLength() + 9;
  frame.attr("x", 0).attr("y", top).attr("width", cur).attr("height", 53)
    .attr("fill", "#fff").attr("stroke", AX).attr("stroke-width", 1.5);
  g.attr("transform", `translate(${cx - cur / 2},0)`);
};

const scatterPanel = (p) => {
  const a = makeAxes(p.box, p.yDomain, p.yTicks, 41, false);
  a.plot.append("g").selectAll("circle").data(points(p.other)).join("circle")
    .attr("cx", (d) => a.x(d[0])).attr("cy", (d) => a.y(d[1])).attr("r", 5.5)
    .attr("fill", "none").attr("stroke", BLUE).attr("stroke-width", 1.7);
  a.plot.append("g").selectAll("rect").data(points(p.swirlab)).join("rect")
    .attr("x", (d) => a.x(d[0]) - 4).attr("y", (d) => a.y(d[1]) - 4)
    .attr("width", 8).attr("height", 8)
    .attr("fill", "none").attr("stroke", ORANGE).attr("stroke-width", 1.7);
  svg.append("text")
    .attr("x", (p.box.x0 + p.box.x1) / 2).attr("y", p.box.y0 - p.titleGap)
    .attr("text-anchor", "middle").attr("font-family", FONT)
    .attr("font-size", p.titleSize).attr("font-weight", "bold").attr("fill", "#000")
    .text(p.title);
  yLabel("CH4\u00a0\u00a0[ppb]", p.box.x0 - 123, p.box, 44);
  legend((p.box.x0 + p.box.x1) / 2, p.legendTop, p.otherName);
};

const growthPanel = (p) => {
  const a = makeAxes(p.box, p.yDomain, p.yTicks, 48, true);
  const area = d3.area().curve(d3.curveMonotoneX)
    .x((d) => a.x(d[0])).y0((d) => a.y(d[2])).y1((d) => a.y(d[3]));
  const line = (i) => d3.line().curve(d3.curveMonotoneX)
    .x((d) => a.x(d[0])).y((d) => a.y(d[i]));
  [[p.other, BLUE], [p.swirlab, ORANGE]].forEach(([data, col]) => {
    a.plot.append("path").attr("d", area(data)).attr("fill", col).attr("fill-opacity", 0.2);
    [2, 3].forEach((i) => {
      a.plot.append("path").attr("d", line(i)(data)).attr("fill", "none")
        .attr("stroke", col).attr("stroke-width", 1.4).attr("stroke-dasharray", "1.5,2.5")
        .attr("stroke-opacity", 0.8);
    });
    a.plot.append("path").attr("d", line(1)(data)).attr("fill", "none")
      .attr("stroke", col).attr("stroke-width", 4.5);
  });
  a.plot.append("line")
    .attr("x1", p.box.x0).attr("x2", p.box.x1)
    .attr("y1", a.y(priorTrend)).attr("y2", a.y(priorTrend))
    .attr("stroke", "#222").attr("stroke-width", 2.5).attr("stroke-dasharray", "11,7");
  yLabel("ppb/year", p.labelX, p.box, 55);
};

scatterPanel({
  box: { x0: 219, x1: 1772, y0: 124, y1: 553 }, titleGap: 22, titleSize: 47.5,
  title: "Comparison of 50 m mast and SWIRLAB at ground level",
  yDomain: [1850, 2050], yTicks: [1850, 1900, 1950, 2000, 2050],
  swirlab: swirlabGround, other: mast50m, otherName: "50 m mast", legendTop: 606,
});
scatterPanel({
  box: { x0: 2008, x1: 3562, y0: 122, y1: 553 }, titleGap: 22, titleSize: 47.5,
  title: "Comparison of ACE-FTS and SWIRLAB at 11.5 km",
  yDomain: [1500, 2000], yTicks: [1500, 1600, 1700, 1800, 1900, 2000],
  swirlab: swirlab115, other: ace115, otherName: "ACE-FTS", legendTop: 606,
});
growthPanel({
  box: { x0: 219, x1: 1772, y0: 723, y1: 1152 }, labelX: 113,
  yDomain: [-10, 25], yTicks: [-10, 0, 10, 20],
  swirlab: groundSwirlTrend, other: groundMastTrend,
});
growthPanel({
  box: { x0: 2008, x1: 3562, y0: 723, y1: 1152 }, labelX: 1902,
  yDomain: [-20, 40], yTicks: [-20, 0, 20, 40],
  swirlab: km115SwirlTrend, other: km115AceTrend,
});
scatterPanel({
  box: { x0: 219, x1: 1772, y0: 1284, y1: 1714 }, titleGap: 15, titleSize: 46,
  title: "Comparison of ACE-FTS and SWIRLAB at 21.5 km",
  yDomain: [400, 1600], yTicks: [500, 1000, 1500],
  swirlab: swirlab215, other: ace215, otherName: "ACE-FTS", legendTop: 1766,
});
scatterPanel({
  box: { x0: 2019, x1: 3562, y0: 1292, y1: 1719 }, titleGap: 20, titleSize: 46,
  title: "Comparison of ACE-FTS and SWIRLAB at 26.5 km",
  yDomain: [0, 1500], yTicks: [0, 500, 1000, 1500],
  swirlab: swirlab265, other: ace265, otherName: "ACE-FTS", legendTop: 1771,
});
growthPanel({
  box: { x0: 219, x1: 1772, y0: 1884, y1: 2314 }, labelX: 113,
  yDomain: [-50, 50], yTicks: [-50, 0, 50],
  swirlab: km215SwirlTrend, other: km215AceTrend,
});
growthPanel({
  box: { x0: 2019, x1: 3562, y0: 1886, y1: 2314 }, labelX: 1890,
  yDomain: [-100, 100], yTicks: [-100, 0, 100],
  swirlab: km265SwirlTrend, other: km265AceTrend,
});
</script>
</body>
</html>
